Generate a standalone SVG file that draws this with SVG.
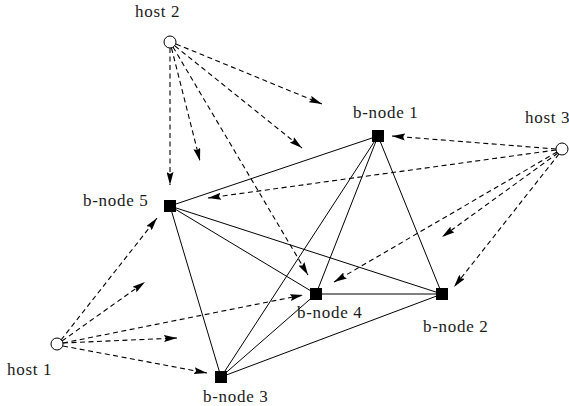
<svg xmlns="http://www.w3.org/2000/svg" width="569" height="406" viewBox="0 0 569 406">
<style>
.e{stroke:#000;stroke-width:1;fill:none}
.d{stroke:#000;stroke-width:1.1;fill:none;stroke-dasharray:5,3.5;marker-end:url(#ah)}
.b{fill:#000}
.h{fill:#fff;stroke:#000;stroke-width:1}
text{font-family:"Liberation Serif","Times New Roman",serif;font-size:17px;letter-spacing:0.7px;fill:#1a1a1a}
</style>
<defs>
<marker id="ah" markerWidth="13" markerHeight="7" refX="13" refY="3.5" orient="auto" markerUnits="userSpaceOnUse">
<path d="M0,0 L13,3.5 L0,7 L2,3.5 z" fill="#000"/>
</marker>
</defs>
<g id="connectors">
<line class="e" x1="378" y1="136" x2="170" y2="206"/>
<line class="e" x1="378" y1="136" x2="316" y2="294"/>
<line class="e" x1="378" y1="136" x2="221" y2="377"/>
<line class="e" x1="378" y1="136" x2="442" y2="294"/>
<line class="e" x1="170" y1="206" x2="316" y2="294"/>
<line class="e" x1="170" y1="206" x2="442" y2="294"/>
<line class="e" x1="170" y1="206" x2="221" y2="377"/>
<line class="e" x1="316" y1="294" x2="442" y2="294"/>
<line class="e" x1="316" y1="294" x2="221" y2="377"/>
<line class="e" x1="442" y1="294" x2="221" y2="377"/>
<line class="d" x1="170" y1="48" x2="170" y2="185"/>
<line class="d" x1="171.5" y1="48" x2="200" y2="161"/>
<line class="d" x1="173" y1="47" x2="308" y2="275"/>
<line class="d" x1="175" y1="46" x2="302" y2="148"/>
<line class="d" x1="176" y1="44" x2="322" y2="104"/>
<line class="d" x1="556" y1="149" x2="392" y2="136"/>
<line class="d" x1="556" y1="150" x2="208" y2="198"/>
<line class="d" x1="557" y1="152" x2="334" y2="282"/>
<line class="d" x1="558" y1="153" x2="442" y2="237"/>
<line class="d" x1="559" y1="154" x2="454" y2="287"/>
<line class="d" x1="61" y1="340" x2="157" y2="218"/>
<line class="d" x1="62" y1="341" x2="145" y2="282"/>
<line class="d" x1="63" y1="343" x2="177" y2="338"/>
<line class="d" x1="63" y1="343" x2="303" y2="295"/>
<line class="d" x1="63" y1="346" x2="207" y2="373"/>
</g>
<g id="host2"><circle class="h" cx="170" cy="42" r="6"/><text x="135" y="17">host 2</text></g>
<g id="host3"><circle class="h" cx="562" cy="149" r="6"/><text x="525" y="123">host 3</text></g>
<g id="host1"><circle class="h" cx="57" cy="344" r="6"/><text x="7" y="375">host 1</text></g>
<g id="bnode1"><rect class="b" x="372" y="130" width="12" height="12"/><text x="353" y="118">b-node 1</text></g>
<g id="bnode2"><rect class="b" x="436" y="288" width="12" height="12"/><text x="423" y="332">b-node 2</text></g>
<g id="bnode3"><rect class="b" x="215" y="371" width="12" height="12"/><text x="203" y="402">b-node 3</text></g>
<g id="bnode4"><rect class="b" x="310" y="288" width="12" height="12"/><text x="297" y="318">b-node 4</text></g>
<g id="bnode5"><rect class="b" x="164" y="200" width="12" height="12"/><text x="83" y="206">b-node 5</text></g>
</svg>
